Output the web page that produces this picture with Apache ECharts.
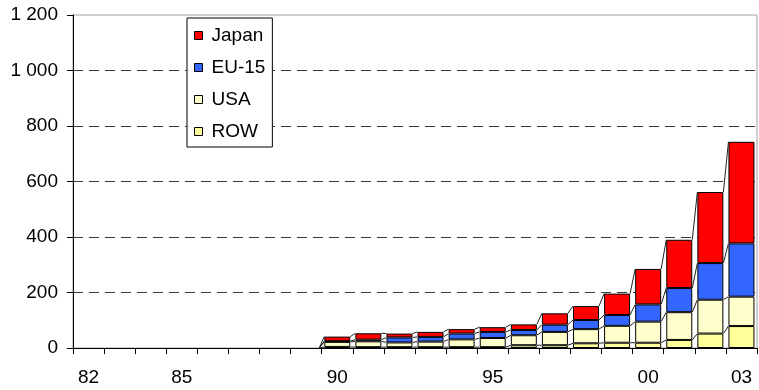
<!DOCTYPE html>
<html>
<head>
<meta charset="utf-8">
<script src="https://cdn.jsdelivr.net/npm/echarts@6/dist/echarts.min.js"></script>
<style>
  html, body { margin: 0; padding: 0; background: #fff; }
  #chart { width: 759px; height: 390px; }
</style>
</head>
<body>
<div id="chart"></div>
<script>
// Years 1982-2003 (two-digit labels)
const years = ['82','83','84','85','86','87','88','89','90','91','92','93','94','95','96','97','98','99','00','01','02','03'];
const labelledYears = ['82','85','90','95','00','03'];
const gridLevels = [200, 400, 600, 800, 1000];

// Stacked values, bottom to top (no output before 1990)
const row   = [null,null,null,null,null,null,null,null,  4,  3,  3,  3,  3,  3, 10, 10, 17, 19, 19, 29,  52,  79];
const usa   = [null,null,null,null,null,null,null,null, 18, 21, 17, 20, 28, 33, 36, 48, 51, 61, 76,100, 122, 106];
const eu15  = [null,null,null,null,null,null,null,null,  3,  6, 18, 17, 21, 22, 19, 26, 33, 39, 62, 87, 132, 192];
const japan = [null,null,null,null,null,null,null,null, 16, 23, 14, 18, 16, 17, 20, 41, 50, 77,128,174, 256, 366];

const BAR_W = 26;
const FONT = '"Liberation Sans", Arial, sans-serif';
const FS = 19;
const stackOrder = [row, usa, eu15, japan];

const chart = echarts.init(document.getElementById('chart'), null, { renderer: 'canvas' });

function barSeries(name, data, color) {
  return {
    name, type: 'bar', stack: 'total', data,
    barWidth: BAR_W,
    itemStyle: { color, borderColor: '#000', borderWidth: 1 },
    emphasis: { disabled: true },
    z: 3
  };
}

chart.setOption({
  animation: false,
  textStyle: { fontFamily: FONT },
  grid: {
    left: 73, top: 15, right: 2, bottom: 42,
    show: true, borderColor: '#a0a0a0', borderWidth: 1, backgroundColor: 'transparent'
  },
  legend: {
    data: ['Japan', 'EU-15', 'USA', 'ROW'],
    orient: 'vertical',
    left: 187, top: 18,
    icon: 'rect',
    itemWidth: 8, itemHeight: 8,
    itemGap: 13,
    padding: [8, 7, 6, 7],
    borderColor: '#000', borderWidth: 1,
    backgroundColor: '#fff',
    itemStyle: { borderColor: '#000', borderWidth: 1 },
    textStyle: { fontSize: FS, color: '#000', fontFamily: FONT, padding: [0, 0, 0, 4] },
    selectedMode: false,
    z: 10
  },
  xAxis: {
    type: 'category',
    data: years,
    boundaryGap: true,
    axisLine: { lineStyle: { color: '#000', width: 1 } },
    axisTick: { show: true, interval: 0, length: 6, lineStyle: { color: '#000' } },
    axisLabel: {
      interval: (idx, val) => labelledYears.includes(val),
      fontSize: FS, color: '#000', margin: 20, fontFamily: FONT
    },
    splitLine: { show: false }
  },
  yAxis: {
    type: 'value',
    min: 0, max: 1200, interval: 200,
    axisLine: { show: true, lineStyle: { color: '#000', width: 1 } },
    axisTick: { show: true, length: 6, lineStyle: { color: '#000' } },
    axisLabel: {
      fontSize: FS, color: '#000', margin: 15, fontFamily: FONT,
      formatter: v => String(v).replace(/\B(?=(\d{3})+$)/g, ' ')
    },
    splitLine: { show: false }
  },
  series: [
    barSeries('ROW', row, '#FFFF99'),
    barSeries('USA', usa, '#FFFFCC'),
    barSeries('EU-15', eu15, '#3366FF'),
    Object.assign(barSeries('Japan', japan, '#FF0000'), {
      markLine: {
        silent: true,
        symbol: 'none',
        label: { show: false },
        lineStyle: { color: '#3a3a3a', type: [10, 6], width: 1 },
        data: gridLevels.map(v => ({ yAxis: v })),
        z: 1
      }
    }),
    {
      // series lines joining each stack level between neighbouring bars
      type: 'custom',
      name: 'links',
      silent: true,
      z: 4,
      data: years.slice(0, -1).map(y => [y, 0]),
      encode: { x: 0, y: 1 },
      renderItem(params, api) {
        const i = params.dataIndex;
        const half = BAR_W / 2;
        const children = [];
        let a = 0, b = 0;
        for (const s of stackOrder) {
          a += s[i] || 0; b += s[i + 1] || 0;
          if (a === 0 && b === 0) continue;
          const p1 = api.coord([i, a]);
          const p2 = api.coord([i + 1, b]);
          children.push({
            type: 'line',
            shape: { x1: p1[0] + half, y1: p1[1], x2: p2[0] - half, y2: p2[1] },
            style: { stroke: '#222', lineWidth: 1 }
          });
        }
        return { type: 'group', children };
      }
    }
  ]
});
</script>
</body>
</html>
